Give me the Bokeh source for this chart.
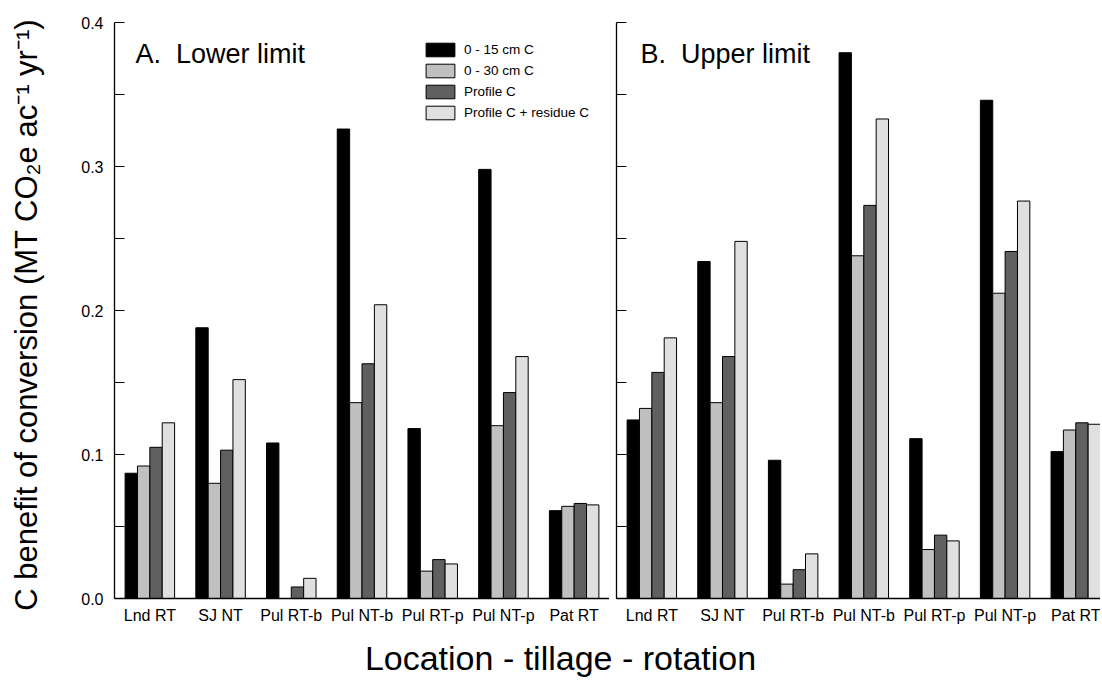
import numpy as np
from bokeh.plotting import figure
from bokeh.models import Range1d, FixedTicker, Legend, LegendItem, Label, NumeralTickFormatter
from bokeh.layouts import column, row
from bokeh.embed import file_html
from bokeh.resources import INLINE
from bokeh.core.validation import silence
from bokeh.core.validation.warnings import MISSING_RENDERERS

silence(MISSING_RENDERERS, True)

FONT = "Liberation Sans"

categories = ["Lnd RT", "SJ NT", "Pul RT-b", "Pul NT-b", "Pul RT-p", "Pul NT-p", "Pat RT"]
series_names = ["0 - 15 cm C", "0 - 30 cm C", "Profile C", "Profile C + residue C"]
series_colors = ["#000000", "#c0c0c0", "#606060", "#e0e0e0"]

# A. Lower limit
lower_0_15 = [0.087, 0.188, 0.108, 0.326, 0.118, 0.298, 0.061]
lower_0_30 = [0.092, 0.080, 0.0, 0.136, 0.019, 0.120, 0.064]
lower_profile = [0.105, 0.103, 0.008, 0.163, 0.027, 0.143, 0.066]
lower_profile_res = [0.122, 0.152, 0.014, 0.204, 0.024, 0.168, 0.065]

# B. Upper limit
upper_0_15 = [0.124, 0.234, 0.096, 0.379, 0.111, 0.346, 0.102]
upper_0_30 = [0.132, 0.136, 0.010, 0.238, 0.034, 0.212, 0.117]
upper_profile = [0.157, 0.168, 0.020, 0.273, 0.044, 0.241, 0.122]
upper_profile_res = [0.181, 0.248, 0.031, 0.333, 0.040, 0.276, 0.121]

y_major = [0.0, 0.1, 0.2, 0.3, 0.4]
y_minor = [0.05, 0.15, 0.25, 0.35]

BAR_W = 0.175
GROUP_START = 0.15


def make_panel(values, width, min_left, x_end, title, title_x, label_axis):
    p = figure(width=width, height=630, x_range=Range1d(0, x_end), y_range=Range1d(0, 0.4),
               output_backend="svg", toolbar_location=None,
               min_border_left=min_left, min_border_right=0, min_border_top=22, min_border_bottom=32)
    p.outline_line_color = None
    p.xgrid.visible = False
    p.ygrid.visible = False
    p.background_fill_color = "white"

    xs = np.arange(len(categories), dtype=float)
    renderers = []
    for k, (vals, col) in enumerate(zip(values, series_colors)):
        r = p.vbar(x=xs + GROUP_START + BAR_W * (k + 0.5), top=vals, width=BAR_W,
                   fill_color=col, line_color="black", line_width=1)
        renderers.append(r)

    # y axis
    ya = p.yaxis[0]
    ya.ticker = FixedTicker(ticks=y_major, minor_ticks=y_minor)
    ya.major_tick_in = 10
    ya.major_tick_out = 0
    ya.minor_tick_in = 10
    ya.minor_tick_out = 0
    ya.axis_line_color = "black"
    ya.axis_line_width = 1.3
    ya.major_tick_line_color = "black"
    ya.minor_tick_line_color = "black"
    if label_axis:
        ya.formatter = NumeralTickFormatter(format="0.0")
        ya.major_label_text_font = FONT
        ya.major_label_text_font_size = "16px"
        ya.major_label_text_color = "black"
        ya.major_label_standoff = 11
        ya.axis_label = "C benefit of conversion  (MT CO\u2082e ac\u207b\u00b9 yr\u207b\u00b9)"
        ya.axis_label_text_font = FONT
        ya.axis_label_text_font_size = "31px"
        ya.axis_label_text_font_style = "normal"
        ya.axis_label_text_color = "black"
        ya.axis_label_standoff = 34
    else:
        ya.major_label_overrides = {t: "" for t in y_major}
        ya.major_label_standoff = 0

    # x axis
    xa = p.xaxis[0]
    xa.ticker = FixedTicker(ticks=[i + 0.5 for i in range(len(categories))])
    xa.major_label_overrides = {i + 0.5: c for i, c in enumerate(categories)}
    xa.major_tick_line_color = None
    xa.minor_tick_line_color = None
    xa.axis_line_color = "black"
    xa.axis_line_width = 1.3
    xa.major_label_text_font = FONT
    xa.major_label_text_font_size = "16px"
    xa.major_label_text_color = "black"
    xa.major_label_standoff = 2

    p.add_layout(Label(x=title_x, y=545, x_units="screen", y_units="screen", text=title,
                       text_font=FONT, text_font_size="27px", text_color="black",
                       text_baseline="alphabetic"))
    return p, renderers


p1, rs = make_panel([lower_0_15, lower_0_30, lower_profile, lower_profile_res],
                    609, 114, 7.0, "A.\u00a0 Lower limit", 21, True)
p2, _ = make_panel([upper_0_15, upper_0_30, upper_profile, upper_profile_res],
                   491, 7, 6.85, "B.\u00a0 Upper limit", 24, False)

legend = Legend(items=[LegendItem(label=n, renderers=[r]) for n, r in zip(series_names, rs)],
                location=(308, 477), glyph_width=36, glyph_height=17, label_height=17,
                spacing=4, padding=0, margin=0, border_line_color=None,
                background_fill_alpha=0, label_text_font=FONT, label_text_font_size="13.5px",
                label_text_color="black", label_standoff=6)
p1.add_layout(legend)

p3 = figure(width=1100, height=48, x_range=Range1d(0, 1), y_range=Range1d(0, 1),
            output_backend="svg", toolbar_location=None, x_axis_type=None, y_axis_type=None,
            min_border=0)
p3.outline_line_color = None
p3.xgrid.visible = False
p3.ygrid.visible = False
p3.add_layout(Label(x=560, y=21, x_units="screen", y_units="screen",
                    text="Location - tillage - rotation", text_font=FONT, text_font_size="34px",
                    text_color="black", text_align="center", text_baseline="middle"))

layout = column(row(p1, p2), p3)

with open("out.html", "w") as f:
    f.write(file_html(layout, INLINE))
